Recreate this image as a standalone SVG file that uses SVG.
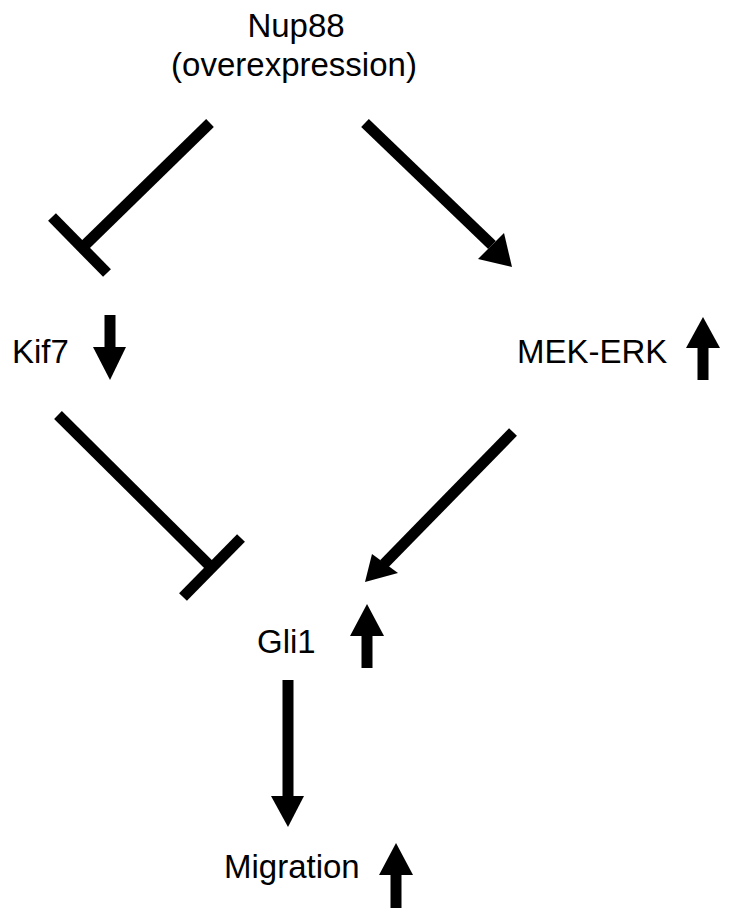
<svg xmlns="http://www.w3.org/2000/svg" width="732" height="923" viewBox="0 0 732 923">
<style>
text{font-family:"Liberation Sans",Arial,sans-serif;font-size:33px;fill:#000}
.e{stroke:#000;stroke-width:11;fill:none;stroke-linecap:butt}
.h{fill:#000}
</style>
<rect width="732" height="923" fill="#fff"/>
<g id="nup88"><text x="296" y="37" text-anchor="middle">Nup88</text><text x="294" y="76" text-anchor="middle">(overexpression)</text></g>
<g id="kif7"><text x="12" y="363">Kif7</text><line class="e" x1="110" y1="315" x2="110" y2="350"/><polygon class="h" points="93,347 126,347 110,380"/></g>
<g id="mekerk"><text x="517" y="363">MEK-ERK</text><line class="e" x1="703" y1="380" x2="703" y2="345"/><polygon class="h" points="686,348 720,348 703,317"/></g>
<g id="gli1"><text x="257" y="653">Gli1</text><line class="e" x1="367" y1="668" x2="367" y2="633"/><polygon class="h" points="350,636 384,636 367,604"/></g>
<g id="migration"><text x="224" y="878">Migration</text><line class="e" x1="396" y1="908" x2="396" y2="872"/><polygon class="h" points="379,875 413,875 396,843"/></g>
<g id="connectors">
<line class="e" x1="210" y1="123" x2="83" y2="247"/>
<line class="e" x1="52" y1="217" x2="107" y2="273"/>
<line class="e" x1="365" y1="123" x2="492" y2="245"/>
<polygon class="h" points="478,259 504,233 512,267"/>
<line class="e" x1="58" y1="415" x2="211" y2="567"/>
<line class="e" x1="183" y1="597" x2="241" y2="538"/>
<line class="e" x1="513" y1="432" x2="384" y2="564"/>
<polygon class="h" points="372,554 398,573 365,582"/>
<line class="e" x1="288" y1="680" x2="288" y2="800"/>
<polygon class="h" points="271,796 304,796 288,827"/>
</g>
</svg>
